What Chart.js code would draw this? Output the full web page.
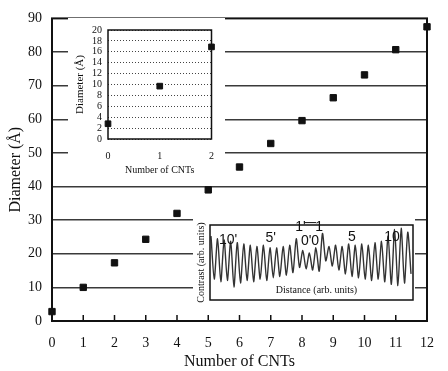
<!DOCTYPE html>
<html><head><meta charset="utf-8">
<script src="https://cdn.jsdelivr.net/npm/chart.js@4"></script>
<style>
html,body{margin:0;padding:0;background:#fff;}
#wrap{position:relative;width:448px;height:371px;overflow:hidden;}
canvas{display:block;}
.inset{position:absolute;background:#fff;}
</style></head><body>
<div id="wrap">
<canvas id="main" width="448" height="371"></canvas>
<div class="inset" style="left:68px;top:18px;width:157px;height:160px"><canvas id="ins1" width="157" height="160"></canvas></div>
<div class="inset" style="left:193px;top:219px;width:222px;height:88px"><canvas id="ins2" width="222" height="88"></canvas></div>
</div>
<script>
// ---- data ----
const cntCounts = [0,1,2,3,4,5,6,7,8,9,10,11,12];
const diameters = [2.8,10.0,17.3,24.3,32.0,39.0,45.8,52.8,59.6,66.4,73.2,80.7,87.5];
const insetCounts = [0,1,2];
const insetDiameters = [2.8,9.7,16.9];
const waveContrast = [88,22, 84,18, 82,20, 80,10, 78,16, 76,20, 74,18, 72,22, 74,20, 70,24,
  70,26, 72,28, 74,32, 84,40, 66,38, 62,36, 70,34, 92,50, 72,42, 74,36,
  72,30, 76,26, 74,24, 76,22, 74,20, 78,22, 80,18, 88,14, 98,12, 100,16, 94,30];
const waveLabels = ["10'", "5'", "1'", "0'0", "1", "5", "10"];
const waveLabelPos = [5.2, 18.2, 27.3, 30.2, 33.0, 43.0, 55.2];
const waveLabelLevel = [82, 85, 101, 80, 101, 87, 87];

Chart.defaults.font.family = "'Liberation Serif', 'Times New Roman', serif";
Chart.defaults.color = '#111';

const framePlugin = (lw) => ({
  id: 'frame',
  afterDraw(chart) {
    const {ctx, chartArea: a} = chart;
    ctx.save();
    ctx.strokeStyle = '#111';
    ctx.lineWidth = lw;
    ctx.strokeRect(a.left, a.top, a.right - a.left, a.bottom - a.top);
    ctx.restore();
  }
});

// ---- main chart ----
new Chart(document.getElementById('main'), {
  type: 'scatter',
  data: { datasets: [{
    data: cntCounts.map((x, i) => ({x, y: diameters[i]})),
    pointStyle: 'rect', radius: 4.5, borderWidth: 1,
    borderColor: '#111', backgroundColor: '#111', clip: false
  }]},
  options: {
    responsive: false, animation: false,
    layout: { padding: { top: 12, right: 11, left: 0, bottom: 0 } },
    plugins: { legend: { display: false }, tooltip: { enabled: false } },
    scales: {
      x: {
        type: 'linear', min: 0, max: 12,
        ticks: { stepSize: 1, font: { size: 14 }, padding: 14 },
        grid: { display: false, drawTicks: false },
        border: { display: false },
        title: { display: true, text: 'Number of CNTs', font: { size: 16 }, padding: 0 },
        afterFit: s => { s.height = 50; }
      },
      y: {
        min: 0, max: 90,
        ticks: { stepSize: 10, font: { size: 14 }, padding: 10 },
        grid: { drawTicks: false, lineWidth: 1.4,
          color: c => (c.tick && c.tick.value > 0 && c.tick.value < 90) ? '#3a3a3a' : 'rgba(0,0,0,0)' },
        border: { display: false },
        title: { display: true, text: 'Diameter (Å)', font: { size: 16 }, padding: { top: 6, bottom: 0 } },
        afterFit: s => { s.width = 52; }
      }
    }
  },
  plugins: [framePlugin(2), {
    id: 'inTicks',
    afterDraw(chart) {
      const {ctx, chartArea: a, scales} = chart;
      ctx.save(); ctx.strokeStyle = '#111'; ctx.lineWidth = 1.5;
      cntCounts.forEach(v => {
        const px = scales.x.getPixelForValue(v);
        ctx.beginPath(); ctx.moveTo(px, a.bottom); ctx.lineTo(px, a.bottom - 6); ctx.stroke();
      });
      ctx.restore();
    }
  }]
});

// ---- top inset ----
new Chart(document.getElementById('ins1'), {
  type: 'scatter',
  data: { datasets: [{
    data: insetCounts.map((x, i) => ({x, y: insetDiameters[i]})),
    pointStyle: 'rect', radius: 4, borderWidth: 1,
    borderColor: '#111', backgroundColor: '#111', clip: false
  }]},
  options: {
    responsive: false, animation: false,
    layout: { padding: { top: 12, right: 5, left: 0, bottom: 0 } },
    plugins: { legend: { display: false }, tooltip: { enabled: false } },
    scales: {
      x: {
        type: 'linear', min: 0, max: 2,
        ticks: { stepSize: 1, font: { size: 10 }, padding: 11 },
        grid: { display: false, drawTicks: false },
        border: { display: false },
        title: { display: true, text: 'Number of CNTs', font: { size: 10 }, padding: 2 },
        afterFit: s => { s.height = 39; }
      },
      y: {
        min: 0, max: 20,
        ticks: { stepSize: 2, autoSkip: false, font: { size: 10, lineHeight: 1 }, padding: 6 },
        grid: { drawTicks: false, lineWidth: 1, color: '#444' },
        border: { display: false, dash: [1, 2] },
        title: { display: true, text: 'Diameter (Å)', font: { size: 11 }, padding: { top: 6, bottom: 0 } },
        afterFit: s => { s.width = 40; }
      }
    }
  },
  plugins: [framePlugin(1.5)]
});

// ---- bottom inset ----
new Chart(document.getElementById('ins2'), {
  type: 'line',
  data: { datasets: [{
    data: waveContrast.map((v, i) => ({x: i, y: v})),
    borderColor: '#333', borderWidth: 1.4, pointRadius: 0, tension: 0.25, fill: false
  }]},
  options: {
    responsive: false, animation: false,
    layout: { padding: { top: 6, right: 2, left: 0, bottom: 7 } },
    plugins: { legend: { display: false }, tooltip: { enabled: false } },
    scales: {
      x: { type: 'linear', min: -0.3, max: 61.6, display: false },
      y: {
        min: -10, max: 105,
        ticks: { display: false },
        grid: { display: false, drawTicks: false },
        border: { display: false },
        title: { display: true, text: 'Contrast (arb. units)', font: { size: 10 }, padding: { top: 2, bottom: 0 } },
        afterFit: s => { s.width = 17; }
      }
    }
  },
  plugins: [framePlugin(1.5), {
    id: 'waveText',
    afterDraw(chart) {
      const {ctx, chartArea: a, scales} = chart;
      ctx.save();
      ctx.fillStyle = '#111';
      ctx.textAlign = 'center'; ctx.textBaseline = 'middle';
      ctx.font = "14px 'Liberation Sans', Arial, sans-serif";
      waveLabels.forEach((t, i) => {
        ctx.fillText(t, scales.x.getPixelForValue(waveLabelPos[i]), scales.y.getPixelForValue(waveLabelLevel[i]));
      });
      // connector between 1' and 1
      const yl = scales.y.getPixelForValue(waveLabelLevel[2]) - 5;
      ctx.strokeStyle = '#111'; ctx.lineWidth = 1;
      ctx.beginPath();
      ctx.moveTo(scales.x.getPixelForValue(waveLabelPos[2]) + 4, yl);
      ctx.lineTo(scales.x.getPixelForValue(waveLabelPos[4]) - 3, yl);
      ctx.stroke();
      ctx.font = "10px 'Liberation Serif', serif";
      ctx.fillText('Distance (arb. units)', (a.left + a.right) / 2 + 5, a.bottom - 10);
      ctx.restore();
    }
  }]
});
</script>
</body></html>
